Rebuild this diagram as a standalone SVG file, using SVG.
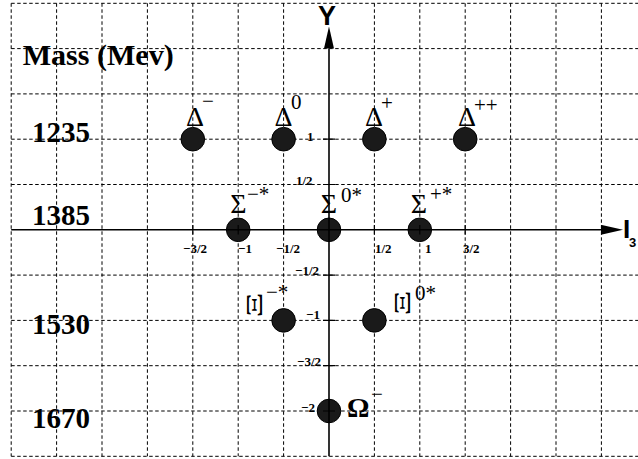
<svg xmlns="http://www.w3.org/2000/svg" width="638" height="459" viewBox="0 0 638 459">
<style>
.grid{stroke:#000;stroke-width:1;stroke-dasharray:3.5,2.5;fill:none}
.axis{stroke:#000;stroke-width:1.6;fill:none}
.tick{stroke:#000;stroke-width:1.2}
.dot{fill:#1a1a1a;stroke:#000;stroke-width:1}
.big{font-family:"Liberation Serif",serif;font-weight:bold;font-size:30px}
.tl{font-family:"Liberation Serif",serif;font-weight:bold;font-size:13px}
.gk{font-family:"Liberation Serif",serif;font-size:28px}
.sup{font-family:"Liberation Serif",serif;font-size:21px}
.ax{font-family:"Liberation Sans",sans-serif;font-weight:bold}
</style>
<defs>
<marker id="arr" viewBox="0 0 22 10" refX="0" refY="5" markerWidth="22" markerHeight="10" markerUnits="userSpaceOnUse" orient="auto">
<path d="M0,0 L22,5 L0,10 Z" fill="#000"/>
</marker>
</defs>
<rect width="638" height="459" fill="#fff"/>
<g id="grid">
<path class="grid" d="M11.2,3.3V456.3M56.6,3.3V456.3M102,3.3V456.3M147.4,3.3V456.3M192.8,3.3V456.3M238.2,3.3V456.3M283.6,3.3V456.3M374.4,3.3V456.3M419.8,3.3V456.3M465.2,3.3V456.3M510.6,3.3V456.3M556,3.3V456.3M601.4,3.3V456.3"/>
<path class="grid" d="M11.2,3.3H638M11.2,48.6H638M11.2,93.9H638M11.2,139.2H638M11.2,184.5H638M11.2,275.1H638M11.2,320.4H638M11.2,365.7H638M11.2,411H638M11.2,456.3H638"/>
</g>
<g id="particles">
<circle class="dot" cx="192.8" cy="139.2" r="11.8"/>
<circle class="dot" cx="283.6" cy="139.2" r="11.8"/>
<circle class="dot" cx="374.4" cy="139.2" r="11.8"/>
<circle class="dot" cx="465.2" cy="139.2" r="11.8"/>
<circle class="dot" cx="238.2" cy="229.8" r="11.8"/>
<circle class="dot" cx="329" cy="229.8" r="11.8"/>
<circle class="dot" cx="419.8" cy="229.8" r="11.8"/>
<circle class="dot" cx="283.6" cy="320.4" r="11.8"/>
<circle class="dot" cx="374.4" cy="320.4" r="11.8"/>
<circle class="dot" cx="329" cy="411" r="11.8"/>
</g>
<g id="axes">
<line class="axis" x1="11.2" y1="229.8" x2="601" y2="229.8" marker-end="url(#arr)"/>
<line class="axis" x1="329" y1="456.3" x2="329" y2="48.5" marker-end="url(#arr)"/>
<path class="tick" d="M192.8,225V234.6M238.2,225V234.6M283.6,225V234.6M374.4,225V234.6M419.8,225V234.6M465.2,225V234.6"/>
<path class="tick" d="M323,139.2H335M323,184.5H335M323,275.1H335M323,320.4H335M323,365.7H335M323,411H335"/>
<text class="ax" x="318" y="25" font-size="27">Y</text>
<text class="ax" x="623" y="238" font-size="26">I</text>
<text class="ax" x="629" y="247" font-size="13">3</text>
</g>
<g id="ticklabels">
<text class="tl" x="183" y="253">−3/2</text>
<text class="tl" x="238" y="253">−1</text>
<text class="tl" x="276" y="253">−1/2</text>
<text class="tl" x="375" y="253">1/2</text>
<text class="tl" x="425" y="253">1</text>
<text class="tl" x="463" y="253">3/2</text>
<text class="tl" x="307" y="141">1</text>
<text class="tl" x="296" y="185">1/2</text>
<text class="tl" x="295" y="275">−1/2</text>
<text class="tl" x="306" y="319">−1</text>
<text class="tl" x="297" y="366">−3/2</text>
<text class="tl" x="301" y="412">−2</text>
</g>
<g id="masses">
<text class="big" x="22.7" y="65" font-size="22" textLength="151" lengthAdjust="spacingAndGlyphs">Mass (Mev)</text>
<text class="big" x="32" y="142" textLength="58" lengthAdjust="spacingAndGlyphs">1235</text>
<text class="big" x="32" y="225" textLength="58" lengthAdjust="spacingAndGlyphs">1385</text>
<text class="big" x="32" y="334" textLength="58" lengthAdjust="spacingAndGlyphs">1530</text>
<text class="big" x="32" y="428" textLength="58" lengthAdjust="spacingAndGlyphs">1670</text>
</g>
<g id="labels">
<text class="gk" x="195" y="126" text-anchor="middle">Δ</text>
<text class="sup" x="202" y="108">−</text>
<text class="gk" x="283.5" y="126" text-anchor="middle">Δ</text>
<text class="sup" x="291" y="109" font-size="25">0</text>
<text class="gk" x="374" y="126" text-anchor="middle">Δ</text>
<text class="sup" x="381" y="110">+</text>
<text class="gk" x="467" y="126" text-anchor="middle">Δ</text>
<text class="sup" x="474" y="112">++</text>
<text class="gk" x="238.5" y="213" text-anchor="middle">Σ</text>
<text class="sup" x="247" y="201" font-size="22">−*</text>
<text class="gk" x="329" y="213" text-anchor="middle">Σ</text>
<text class="sup" x="341" y="202">0*</text>
<text class="gk" x="419" y="213" text-anchor="middle">Σ</text>
<text class="sup" x="430" y="201">+*</text>
<text class="gk" transform="translate(262,305) rotate(-90) scale(1.4,0.8)" text-anchor="middle" font-size="30">Ξ</text>
<text class="sup" x="266" y="299" font-size="22">−*</text>
<text class="gk" transform="translate(410,303) rotate(-90) scale(1.4,0.8)" text-anchor="middle" font-size="30">Ξ</text>
<text class="sup" x="415" y="300" font-size="23">0*</text>
<text class="gk" x="347" y="417" font-size="25" font-weight="bold">Ω</text>
<text class="sup" x="371" y="401" font-size="15">−</text>
</g>
</svg>
